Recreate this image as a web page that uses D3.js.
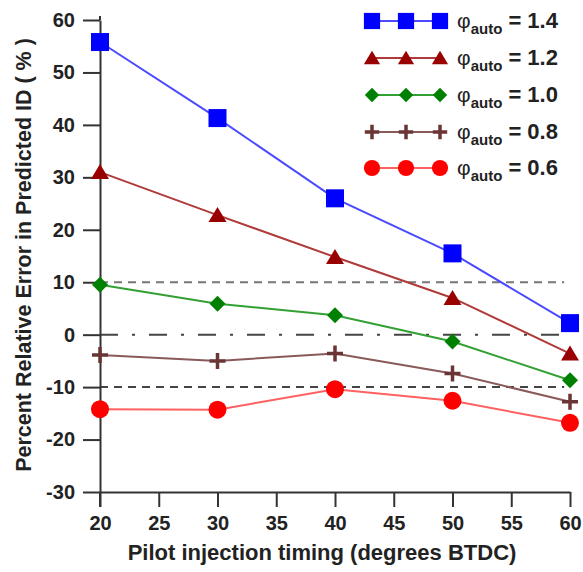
<!DOCTYPE html>
<html>
<head>
<meta charset="utf-8">
<script src="https://cdn.jsdelivr.net/npm/d3@7"></script>
<style>
  body { margin: 0; background: #fff; }
  text { font-family: "Liberation Sans", Arial, sans-serif; }
</style>
</head>
<body>
<div id="chart"></div>
<script>
const timing = [20, 30, 40, 50, 60];
const phiLabels = ["1.4", "1.2", "1.0", "0.8", "0.6"];
const err14 = [55.8, 41.3, 26.0, 15.5, 2.2];
const err12 = [31.0, 22.8, 14.8, 7.0, -3.6];
const err10 = [9.5, 5.9, 3.7, -1.3, -8.7];
const err08 = [-3.9, -5.0, -3.6, -7.4, -12.8];
const err06 = [-14.2, -14.3, -10.4, -12.6, -16.8];
const xTicks = [20, 25, 30, 35, 40, 45, 50, 55, 60];
const yTicks = [-30, -20, -10, 0, 10, 20, 30, 40, 50, 60];

const series = [
  { label: phiLabels[0], values: err14, line: "#4a4aff", fill: "#0000ff", shape: "square" },
  { label: phiLabels[1], values: err12, line: "#b03a3a", fill: "#990000", shape: "triangle" },
  { label: phiLabels[2], values: err10, line: "#33a033", fill: "#008000", shape: "diamond" },
  { label: phiLabels[3], values: err08, line: "#8a5a5a", fill: "#6b3535", shape: "plus" },
  { label: phiLabels[4], values: err06, line: "#ff6060", fill: "#ff0000", shape: "circle" }
];

const W = 583, H = 572;
const svg = d3.select("#chart").append("svg").attr("width", W).attr("height", H);

const x = d3.scaleLinear().domain([20, 60]).range([100, 570]);
const y = d3.scaleLinear().domain([-30, 60]).range([492, 20]);

// reference lines
svg.append("line")
  .attr("x1", x(20)).attr("x2", x(59.5))
  .attr("y1", y(10)).attr("y2", y(10))
  .attr("stroke", "#777").attr("stroke-width", 2).attr("stroke-dasharray", "8,6");
svg.append("line")
  .attr("x1", x(20)).attr("x2", x(59.5))
  .attr("y1", y(-10)).attr("y2", y(-10))
  .attr("stroke", "#444").attr("stroke-width", 2).attr("stroke-dasharray", "8,6");
svg.append("line")
  .attr("x1", x(20)).attr("x2", x(59.5))
  .attr("y1", y(0)).attr("y2", y(0))
  .attr("stroke", "#444").attr("stroke-width", 2).attr("stroke-dasharray", "18,14,3,14");

// axes
const xAxis = svg.append("g")
  .attr("transform", `translate(0, ${y(-30)})`)
  .call(d3.axisBottom(x).tickValues(xTicks).tickFormat(d => String(d))
    .tickSize(15).tickSizeOuter(0).tickPadding(9));
const yAxis = svg.append("g")
  .attr("transform", `translate(${x(20)}, 0)`)
  .call(d3.axisLeft(y).tickValues(yTicks).tickFormat(d => String(d))
    .tickSize(17).tickSizeOuter(0).tickPadding(8));

[xAxis, yAxis].forEach(g => {
  g.select(".domain").attr("stroke", "#333").attr("stroke-width", 2);
  g.selectAll(".tick line").attr("stroke", "#333").attr("stroke-width", 2);
  g.selectAll(".tick text")
    .attr("fill", "#222")
    .style("font-size", "20px")
    .style("font-weight", "bold")
    .style("font-family", "'Liberation Sans', Arial, sans-serif");
});
// extend y axis line beyond the plot like the original
svg.append("line")
  .attr("x1", x(20)).attr("x2", x(20))
  .attr("y1", y(-30)).attr("y2", y(-30) + 15)
  .attr("stroke", "#333").attr("stroke-width", 2);
svg.append("line")
  .attr("x1", x(20)).attr("x2", x(20))
  .attr("y1", y(60) - 4).attr("y2", y(60))
  .attr("stroke", "#333").attr("stroke-width", 2);

// axis titles
svg.append("text")
  .attr("x", 322).attr("y", 560)
  .attr("text-anchor", "middle")
  .attr("fill", "#222")
  .style("font-size", "22px").style("font-weight", "bold")
  .text("Pilot injection timing (degrees BTDC)");
svg.append("text")
  .attr("transform", `translate(31, 255) rotate(-90)`)
  .attr("text-anchor", "middle")
  .attr("fill", "#222")
  .style("font-size", "21.5px").style("font-weight", "bold")
  .text("Percent Relative Error in Predicted ID ( % )");

function drawMarker(g, shape, cx, cy, color, k = 1) {
  if (shape === "square") {
    g.append("rect").attr("x", cx - 9 * k).attr("y", cy - 9 * k)
      .attr("width", 18 * k).attr("height", 18 * k).attr("fill", color);
  } else if (shape === "triangle") {
    g.append("path").attr("d", `M${cx},${cy - 8 * k}L${cx + 9 * k},${cy + 7 * k}L${cx - 9 * k},${cy + 7 * k}Z`).attr("fill", color);
  } else if (shape === "diamond") {
    g.append("path").attr("d", `M${cx},${cy - 8 * k}L${cx + 8 * k},${cy}L${cx},${cy + 8 * k}L${cx - 8 * k},${cy}Z`).attr("fill", color);
  } else if (shape === "plus") {
    g.append("path").attr("d", `M${cx - 8 * k},${cy}H${cx + 8 * k}M${cx},${cy - 8 * k}V${cy + 8 * k}`)
      .attr("stroke", color).attr("stroke-width", 3.5).attr("fill", "none");
  } else {
    g.append("circle").attr("cx", cx).attr("cy", cy).attr("r", 9 * k).attr("fill", color);
  }
}

const line = d3.line().x((d, i) => x(timing[i])).y(d => y(d));

series.forEach(s => {
  const g = svg.append("g");
  g.append("path")
    .attr("d", line(s.values))
    .attr("fill", "none")
    .attr("stroke", s.line)
    .attr("stroke-width", 2);
  s.values.forEach((v, i) => drawMarker(g, s.shape, x(timing[i]), y(v), s.fill));
});

// legend
const legendRows = [21, 58, 95, 132, 168];
series.forEach((s, i) => {
  const g = svg.append("g");
  const ly = legendRows[i];
  g.append("line").attr("x1", 372).attr("x2", 440).attr("y1", ly).attr("y2", ly)
    .attr("stroke", s.line).attr("stroke-width", 2);
  [372, 406, 440].forEach(px => drawMarker(g, s.shape, px, ly, s.fill, 0.9));
  const t = g.append("text")
    .attr("x", 457).attr("y", ly + 7)
    .attr("fill", "#222")
    .style("font-size", "21px");
  t.append("tspan").text("φ");
  t.append("tspan").attr("dy", 6).style("font-size", "15px").style("font-weight", "bold").text("auto");
  t.append("tspan").attr("dy", -6).style("font-size", "22px").style("font-weight", "bold").text(" = " + s.label);
});
</script>
</body>
</html>
